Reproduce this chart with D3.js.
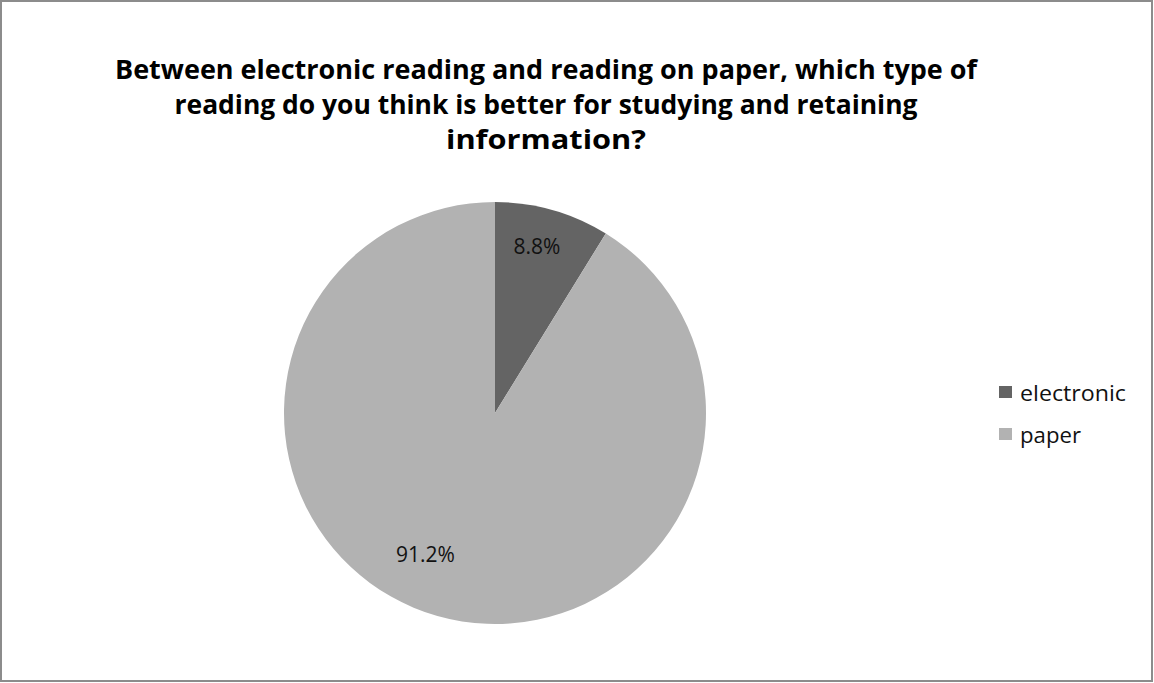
<!DOCTYPE html>
<html>
<head>
<meta charset="utf-8">
<script src="https://cdn.jsdelivr.net/npm/d3@7"></script>
<style>
  html, body { margin: 0; padding: 0; background: #fff; }
  svg { display: block; }
</style>
</head>
<body>
<svg id="chart" width="1154" height="683"></svg>
<script>
// Survey answers
const categories = ["electronic", "paper"];
const values = [8.8, 91.2];
const labels = ["8.8%", "91.2%"];
const sliceColors = ["#646464", "#b2b2b2"];
const titleLines = [
  "Between electronic reading and reading on paper, which type of",
  "reading do you think is better for studying and retaining",
  "information?"
];

const W = 1154, H = 683;
const svg = d3.select("#chart");

// Chart frame
svg.append("rect")
  .attr("x", 1).attr("y", 1)
  .attr("width", W - 3).attr("height", H - 3)
  .attr("fill", "#fff")
  .attr("stroke", "#8c8c8c")
  .attr("stroke-width", 2);

// Title
const titleWidths = [862, 743, 200];
const titleY = [79, 114, 149];
svg.append("g").selectAll("text")
  .data(titleLines)
  .join("text")
  .attr("x", 546)
  .attr("y", (d, i) => titleY[i])
  .attr("text-anchor", "middle")
  .attr("font-family", "'Open Sans', Arial, sans-serif")
  .attr("font-weight", "bold")
  .attr("font-size", 27)
  .attr("fill", "#000")
  .attr("textLength", (d, i) => titleWidths[i])
  .attr("lengthAdjust", "spacingAndGlyphs")
  .text(d => d);

// Pie
const cx = 495, cy = 413, r = 211;
const color = d3.scaleOrdinal().domain(categories).range(sliceColors);
const pie = d3.pie().sort(null).value(d => d.value);
const data = categories.map((c, i) => ({ name: c, value: values[i], label: labels[i] }));
const arcs = pie(data);
const arc = d3.arc().innerRadius(0).outerRadius(r);

const g = svg.append("g").attr("transform", `translate(${cx},${cy})`);
g.selectAll("path")
  .data(arcs)
  .join("path")
  .attr("d", arc)
  .attr("fill", d => color(d.data.name));

// Data labels: placed inside each slice (radius and angular nudge per slice)
const labelRadius = [172, 158];
const labelAngleShift = [-0.03, 0.18];
g.selectAll("text")
  .data(arcs)
  .join("text")
  .attr("transform", (d, i) => {
    const a = (d.startAngle + d.endAngle) / 2 + labelAngleShift[i];
    const x = Math.sin(a) * labelRadius[i];
    const y = -Math.cos(a) * labelRadius[i];
    return `translate(${x},${y})`;
  })
  .attr("text-anchor", "middle")
  .attr("dy", "0.36em")
  .attr("font-family", "'Open Sans', 'DejaVu Sans', sans-serif")
  .attr("font-size", 21)
  .attr("fill", "#111")
  .text(d => d.data.label);

// Legend
const legendWidths = [106, 61];
const legend = svg.append("g").attr("transform", "translate(999,386)");
const item = legend.selectAll("g")
  .data(categories)
  .join("g")
  .attr("transform", (d, i) => `translate(0,${i * 42})`);
item.append("rect")
  .attr("width", 13).attr("height", 12)
  .attr("fill", d => color(d));
item.append("text")
  .attr("x", 21).attr("y", 15)
  .attr("font-family", "'Open Sans', 'DejaVu Sans', sans-serif")
  .attr("font-size", 21)
  .attr("fill", "#111")
  .attr("textLength", (d, i) => legendWidths[i])
  .attr("lengthAdjust", "spacingAndGlyphs")
  .text(d => d);
</script>
</body>
</html>
